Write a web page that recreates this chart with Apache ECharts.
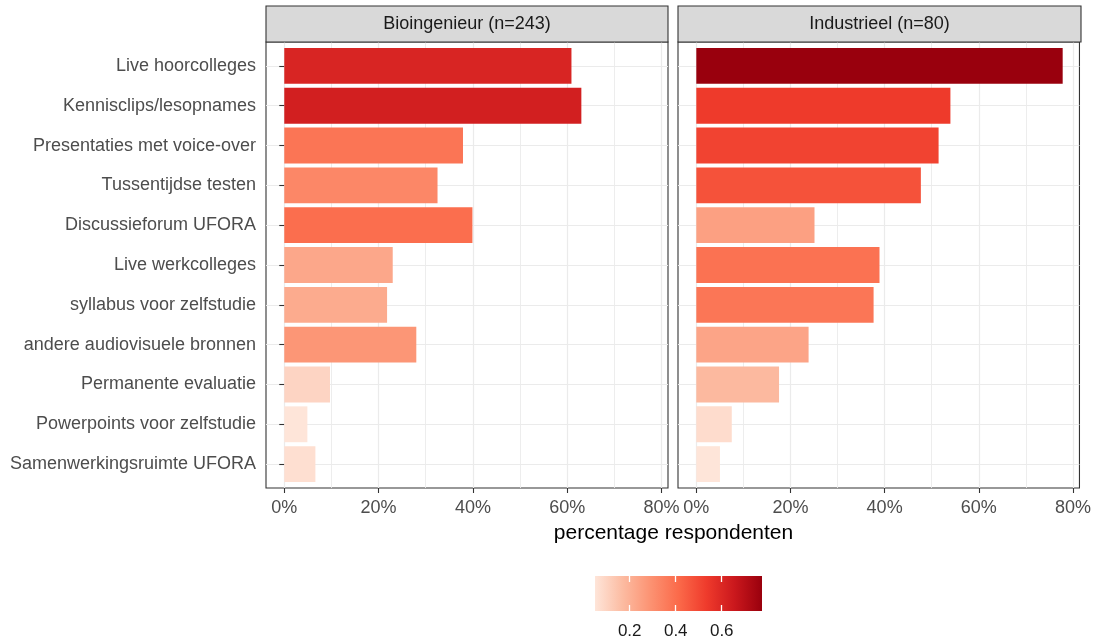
<!DOCTYPE html>
<html>
<head>
<meta charset="utf-8">
<script src="https://cdn.jsdelivr.net/npm/echarts@6/dist/echarts.min.js"></script>
<style>
  html, body { margin: 0; padding: 0; background: #ffffff; }
  #chart { width: 1094px; height: 640px; }
</style>
</head>
<body>
<div id="chart"></div>
<script>
// ---- data ----
const categories = [
  'Live hoorcolleges',
  'Kennisclips/lesopnames',
  'Presentaties met voice-over',
  'Tussentijdse testen',
  'Discussieforum UFORA',
  'Live werkcolleges',
  'syllabus voor zelfstudie',
  'andere audiovisuele bronnen',
  'Permanente evaluatie',
  'Powerpoints voor zelfstudie',
  'Samenwerkingsruimte UFORA'
];
const panelTitles = ['Bioingenieur (n=243)', 'Industrieel (n=80)'];
const bioValues = [0.609, 0.630, 0.379, 0.325, 0.399, 0.230, 0.218, 0.280, 0.097, 0.049, 0.066];
const indValues = [0.775, 0.5375, 0.5125, 0.475, 0.25, 0.3875, 0.375, 0.2375, 0.175, 0.075, 0.05];
const xTicks = [0, 0.2, 0.4, 0.6, 0.8];
const xMinorTicks = [0.1, 0.3, 0.5, 0.7];
const legendTicks = [0.2, 0.4, 0.6];
const palette = ['#FEE5D9', '#FCBBA1', '#FC9272', '#FB6A4A', '#EF3B2C', '#CB181D', '#99000D'];
const xLabel = 'percentage respondenten';

// ---- scales ----
const allVals = bioValues.concat(indValues);
const vMin = Math.min(...allVals);
const vMax = Math.max(...allVals);
const xPad = (vMax - 0) * 0.05;
const xMin = -xPad, xMax = vMax + xPad;

// ---- layout ----
const FONT = "'Liberation Sans', Arial, sans-serif";
const AXIS_FS = 18;
const P_TOP = 42, P_BOTTOM = 488;
const P_H = P_BOTTOM - P_TOP;
const UNIT = P_H / (categories.length + 0.2);
const panels = [{ left: 266, right: 668 }, { left: 678, right: 1081 }];
const STRIP_TOP = 6;
const LEG = { left: 595, top: 576, width: 167, height: 35 };
const TICK_LEN = 5;

const grids = [], xAxes = [], yAxes = [], series = [], graphics = [];
const valuesByPanel = [bioValues, indValues];

panels.forEach((p, k) => {
  const w = p.right - p.left;
  const gA = grids.length;
  grids.push({ left: p.left, top: P_TOP, width: w, height: P_H, show: true,
    borderColor: '#333333', borderWidth: 1.1, backgroundColor: 'transparent', containLabel: false });
  const gB = grids.length;
  grids.push({ left: p.left, top: P_TOP + UNIT * 0.1, width: w, height: UNIT * categories.length, containLabel: false });

  // major x axis (labels, ticks, major grid)
  xAxes.push({ type: 'value', gridIndex: gA, min: xMin, max: xMax, position: 'bottom',
    axisLine: { show: false },
    axisTick: { show: true, length: TICK_LEN, customValues: xTicks, lineStyle: { color: '#333333', width: 1.1 } },
    axisLabel: { show: true, customValues: xTicks, margin: 11, fontFamily: FONT, fontSize: AXIS_FS, color: '#4D4D4D',
      formatter: v => Math.round(v * 100) + '%' },
    splitLine: { show: true, lineStyle: { color: '#EBEBEB', width: 1.2 } } });
  // minor x grid
  xAxes.push({ type: 'value', gridIndex: gA, min: xMin, max: xMax, position: 'top',
    axisLine: { show: false }, axisLabel: { show: false },
    axisTick: { show: false, customValues: xMinorTicks },
    splitLine: { show: true, lineStyle: { color: '#EBEBEB', width: 0.9 } } });
  // y gridlines
  const yTickVals = categories.map((c, i) => i + 1);
  yAxes.push({ type: 'value', gridIndex: gA, min: 0.4, max: categories.length + 0.6, inverse: true,
    axisLine: { show: false }, axisLabel: { show: false },
    axisTick: { show: false, customValues: yTickVals },
    splitLine: { show: true, lineStyle: { color: '#EBEBEB', width: 1.2 } } });

  // bar axes
  const xB = xAxes.length;
  xAxes.push({ type: 'value', gridIndex: gB, min: xMin, max: xMax, show: false });
  const yB = yAxes.length;
  yAxes.push({ type: 'category', gridIndex: gB, data: categories, inverse: true,
    axisLine: { show: false },
    axisTick: { show: k === 0, alignWithLabel: true, length: TICK_LEN, lineStyle: { color: '#333333', width: 1.1 } },
    axisLabel: { show: k === 0, interval: 0, margin: TICK_LEN + 5, fontFamily: FONT, fontSize: AXIS_FS, color: '#4D4D4D' },
    splitLine: { show: false } });

  series.push({ type: 'bar', xAxisIndex: xB, yAxisIndex: yB, barWidth: '90%',
    data: valuesByPanel[k].map((v, i) => [v, categories[i]]),
    encode: { x: 0, y: 1 }, silent: true });

  // strip header
  graphics.push({ type: 'rect', shape: { x: p.left, y: STRIP_TOP, width: w, height: P_TOP - STRIP_TOP },
    style: { fill: '#D9D9D9', stroke: '#333333', lineWidth: 1.1 }, z: 10 });
  graphics.push({ type: 'text', x: p.left + w / 2, y: (STRIP_TOP + P_TOP) / 2,
    style: { text: panelTitles[k], fontFamily: FONT, fontSize: AXIS_FS, fill: '#1A1A1A',
      align: 'center', verticalAlign: 'middle' }, z: 11 });
});

// axis title
graphics.push({ type: 'text', x: (panels[0].left + panels[1].right) / 2, y: 533,
  style: { text: xLabel, fontFamily: FONT, fontSize: 21, fill: '#000000', align: 'center', verticalAlign: 'middle' } });

// colour bar legend
const gC = grids.length;
grids.push({ left: LEG.left, top: LEG.top, width: LEG.width, height: LEG.height, show: true, borderWidth: 0,
  backgroundColor: { type: 'linear', x: 0, y: 0, x2: 1, y2: 0,
    colorStops: palette.map((c, i) => ({ offset: i / (palette.length - 1), color: c })) } });
xAxes.push({ type: 'value', gridIndex: gC, min: vMin, max: vMax, position: 'bottom',
  axisLine: { show: false }, splitLine: { show: false },
  axisTick: { show: true, inside: true, length: 6, customValues: legendTicks, lineStyle: { color: '#FFFFFF', width: 1.3 } },
  axisLabel: { show: true, customValues: legendTicks, margin: 12, fontFamily: FONT, fontSize: 17, color: '#1A1A1A',
    formatter: v => v.toFixed(1) } });
xAxes.push({ type: 'value', gridIndex: gC, min: vMin, max: vMax, position: 'top',
  axisLine: { show: false }, splitLine: { show: false }, axisLabel: { show: false },
  axisTick: { show: true, inside: true, length: 6, customValues: legendTicks, lineStyle: { color: '#FFFFFF', width: 1.3 } } });
yAxes.push({ type: 'value', gridIndex: gC, min: 0, max: 1, show: false });

const chart = echarts.init(document.getElementById('chart'), null, { renderer: 'canvas' });
chart.setOption({
  animation: false,
  backgroundColor: '#ffffff',
  grid: grids,
  xAxis: xAxes,
  yAxis: yAxes,
  visualMap: { type: 'continuous', show: false, min: vMin, max: vMax, dimension: 0,
    seriesIndex: [0, 1], inRange: { color: palette } },
  series: series,
  graphic: graphics
});
</script>
</body>
</html>
